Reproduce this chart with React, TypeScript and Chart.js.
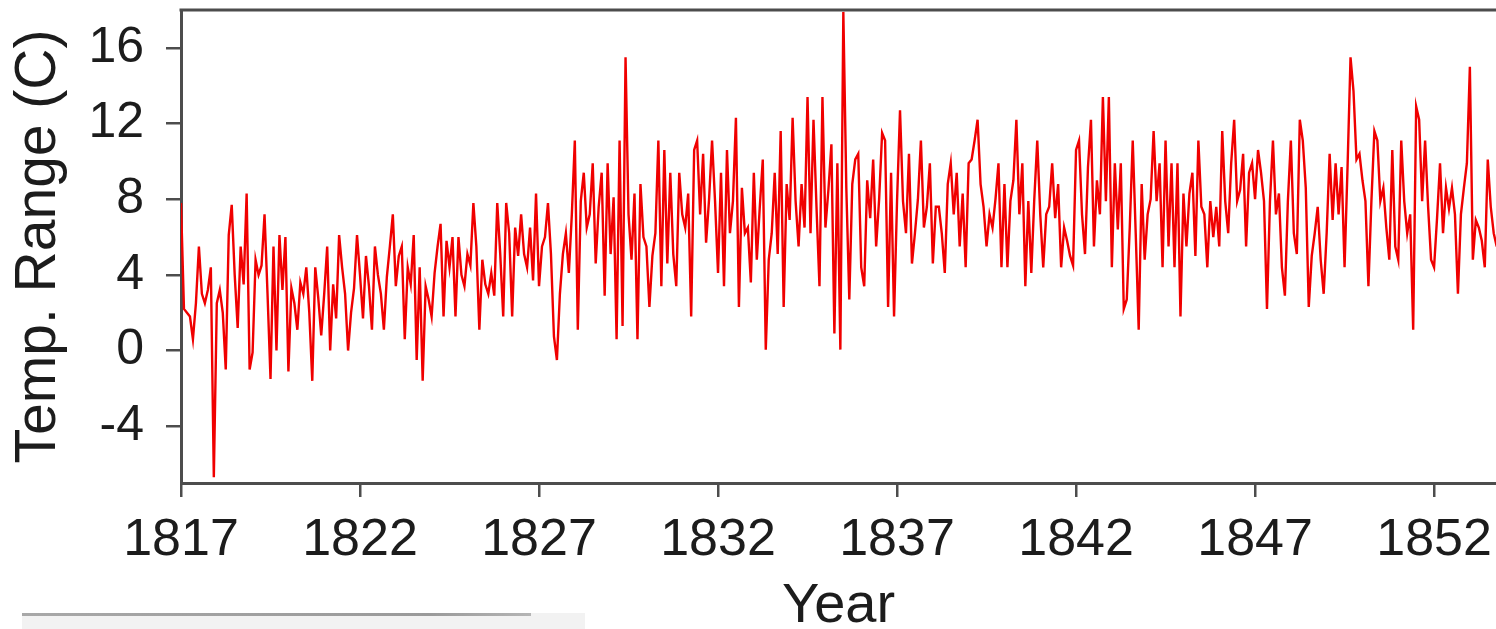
import React, { useEffect, useRef } from "react";
import { Chart, registerables } from "chart.js";

Chart.register(...registerables);

// Monthly temperature range series, starting January 1817
const START_YEAR = 1817;
const MONTHS_PER_YEAR = 12;

const yearTicks = [1817, 1822, 1827, 1832, 1837, 1842, 1847, 1852];
const tempTicks = [-4, 0, 4, 8, 12, 16];

const rangeFrom1817 = [
  7.8, 2.2, 2.0, 1.8, 0.6, 2.5, 5.5, 3.0, 2.5, 3.2,
  4.4, -6.7, 2.5, 3.2, 2.0, -1.0, 6.1, 7.7, 4.0, 1.2,
  5.5, 3.5, 8.3, -1.0, -0.1, 4.8, 4.0, 4.5, 7.2, 3.0,
  -1.5, 5.5, 0.0, 6.1, 3.2, 6.0, -1.1, 3.3, 2.5, 1.1,
  3.6, 3.0, 4.4, 2.0, -1.6, 4.4, 2.8, 0.8, 3.0, 5.5,
  0.0, 3.5, 1.7, 6.1, 4.4, 3.0, 0.0, 2.0, 3.3, 6.1,
  4.0, 1.7, 5.0, 3.4,
];
const rangeFrom1822 = [
  1.1, 5.5, 4.0, 3.0, 1.1, 3.9, 5.5, 7.2, 3.4, 5.0,
  5.5, 0.6, 4.4, 3.5, 6.1, -0.5, 4.4, -1.6, 3.4, 2.7,
  1.8, 4.1, 5.5, 6.7, 1.8, 5.8, 4.4, 6.0, 1.8, 6.0,
  4.0, 3.4, 5.1, 4.5, 7.8, 5.5, 1.1, 4.8, 3.5, 3.0,
  4.1, 2.9, 7.8, 5.1, 1.8, 7.8, 6.2, 1.8, 6.5, 5.0,
  7.2, 5.1, 4.4, 6.5, 3.7, 8.3, 3.4, 5.5, 6.0, 7.8,
  5.1, 0.75,
];
const rangeFrom1827 = [
  -0.5, 3.0, 5.1, 6.2, 4.1, 7.2, 11.1, 1.1, 7.9, 9.4,
  6.5, 7.2, 9.9, 4.6, 7.6, 9.4, 2.9, 9.9, 5.1, 8.1,
  0.6, 11.1, 1.3, 15.5, 7.2, 4.8, 8.3, 0.6, 8.8, 6.0,
  5.5, 2.3, 5.0, 6.2, 11.1, 3.4, 10.6, 4.6, 9.4, 5.1,
  3.4, 9.4, 7.2, 6.5, 8.3, 1.8, 10.6, 11.1, 7.2, 10.4,
  5.7, 8.0, 11.1, 7.9, 4.1, 9.4, 3.4, 10.6, 6.2, 7.9,
  12.3, 2.3, 8.6, 6.2,
];
const rangeFrom1832 = [
  6.5, 3.6, 9.4, 4.8, 7.6, 10.1, 0.05, 4.8, 6.2, 9.4,
  5.1, 11.6, 2.3, 8.8, 6.9, 12.3, 7.9, 5.5, 8.8, 6.5,
  13.4, 6.2, 12.2, 7.6, 3.4, 13.4, 6.5, 8.5, 10.9, 0.9,
  9.9, 0.05, 17.9, 8.6, 2.7, 8.8, 10.1, 10.4, 4.4, 3.4,
  9.0, 7.0, 10.1, 5.5, 8.0, 11.5, 11.1, 2.3, 9.4, 1.8,
  7.9, 12.7, 7.9, 6.2, 10.4, 4.6, 6.2, 8.0, 11.1, 6.5,
  7.6, 9.9, 4.6, 7.6,
];
const rangeFrom1838 = [
  7.6, 6.2, 4.1, 8.8, 9.9, 7.2, 9.4, 5.5, 8.3, 4.4,
  9.9, 10.1, 11.1, 12.2, 8.8, 7.6, 5.5, 7.2, 6.5, 8.0,
  9.9, 4.4, 8.8, 4.4, 7.9, 9.0, 12.2, 7.2, 9.9, 3.4,
  7.9, 4.1, 8.0, 11.1, 7.2, 4.4, 7.2, 7.6, 9.9, 7.0,
  8.8, 4.4, 6.5, 5.8, 5.0, 4.5, 10.6, 11.1, 7.2, 5.1,
  9.7, 12.2, 5.5, 9.0, 7.2, 13.4, 7.9, 13.4, 4.4, 9.9,
  6.4, 9.9, 2.2,
];
const rangeFrom1843 = [
  2.7, 6.5, 11.1, 6.2, 1.1, 8.8, 4.8, 7.2, 8.0, 11.6,
  7.9, 9.9, 4.4, 11.1, 5.5, 9.9, 4.4, 9.9, 1.8, 8.3,
  5.5, 8.3, 9.4, 5.0, 11.1, 7.6, 7.2, 4.4, 7.9, 6.0,
  7.6, 5.5, 11.6, 7.9, 6.2, 9.9, 12.2, 7.9, 8.5, 10.4,
  5.5, 9.4, 9.9, 8.0, 10.6, 9.4, 7.9, 2.2, 7.9, 11.1,
  7.2, 8.3, 4.4, 2.9, 7.9, 11.1, 6.2, 5.1, 12.2, 11.1,
  8.6, 2.3, 5.0, 6.2,
];
const rangeFrom1848 = [
  7.6, 4.8, 3.0, 6.2, 10.4, 6.9, 9.9, 7.2, 9.7, 4.4,
  9.7, 15.5, 13.7, 10.1, 10.4, 9.0, 7.9, 3.4, 7.9, 11.6,
  11.1, 7.9, 8.6, 6.5, 4.8, 10.6, 5.5, 4.8, 11.1, 7.9,
  6.2, 7.2, 1.1, 12.9, 12.2, 7.9, 11.1, 7.6, 4.8, 4.4,
  7.0, 9.9, 6.2, 8.6, 7.5, 8.6, 7.2, 3.0, 7.2, 8.6,
  9.9, 15.0, 4.8, 6.9, 6.5, 5.8, 4.4, 10.1, 7.6, 6.2,
  5.5,
];

const tempRange = [
  ...rangeFrom1817,
  ...rangeFrom1822,
  ...rangeFrom1827,
  ...rangeFrom1832,
  ...rangeFrom1838,
  ...rangeFrom1843,
  ...rangeFrom1848,
];

const FONT = "'Liberation Sans', Arial, Helvetica, sans-serif";
const AXIS_COLOR = "#4d4d4d";
const TEXT_COLOR = "#1c1c1c";

const topBorder = {
  id: "topBorder",
  afterDraw(chart: any) {
    const { ctx, chartArea } = chart;
    ctx.save();
    ctx.strokeStyle = AXIS_COLOR;
    ctx.lineWidth = 3;
    ctx.beginPath();
    ctx.moveTo(chartArea.left - 1.5, chartArea.top);
    ctx.lineTo(chartArea.right, chartArea.top);
    ctx.stroke();
    ctx.restore();
  },
};

export default function App() {
  const canvasRef = useRef<HTMLCanvasElement>(null);

  useEffect(() => {
    const canvas = canvasRef.current;
    if (!canvas) return;
    const points = tempRange.map((v, i) => ({
      x: START_YEAR + i / MONTHS_PER_YEAR,
      y: v,
    }));
    const chart = new Chart(canvas, {
      type: "line",
      data: {
        datasets: [
          {
            data: points,
            borderColor: "#f00000",
            borderWidth: 2.4,
            pointRadius: 0,
            tension: 0,
            fill: false,
          },
        ],
      },
      options: {
        animation: false,
        responsive: false,
        events: [],
        layout: {
          autoPadding: false,
          padding: { top: 10, left: 0, right: 0, bottom: 0 },
        },
        plugins: {
          legend: { display: false },
          tooltip: { enabled: false },
        },
        scales: {
          x: {
            type: "linear",
            min: 1817,
            max: 1853.73,
            afterBuildTicks: (scale: any) => {
              scale.ticks = yearTicks.map((v) => ({ value: v }));
            },
            afterFit: (scale: any) => {
              scale.height = 146;
              scale.paddingLeft = 0;
              scale.paddingRight = 0;
            },
            grid: {
              drawOnChartArea: false,
              drawTicks: true,
              tickLength: 14,
              color: AXIS_COLOR,
              lineWidth: 2.5,
            },
            border: { display: true, color: AXIS_COLOR, width: 3 },
            ticks: {
              font: { family: FONT, size: 52 },
              color: TEXT_COLOR,
              padding: 12,
              maxRotation: 0,
              autoSkip: false,
              callback: (v: any) => String(v),
            },
            title: {
              display: true,
              text: "Year",
              font: { family: FONT, size: 56, lineHeight: 0.8 },
              color: TEXT_COLOR,
              padding: { top: 0, bottom: 0 },
            },
          },
          y: {
            type: "linear",
            min: -7,
            max: 18,
            afterBuildTicks: (scale: any) => {
              scale.ticks = tempTicks.map((v) => ({ value: v }));
            },
            afterFit: (scale: any) => {
              scale.width = 181;
              scale.paddingTop = 0;
              scale.paddingBottom = 0;
            },
            grid: {
              drawOnChartArea: false,
              drawTicks: true,
              tickLength: 15,
              color: AXIS_COLOR,
              lineWidth: 2.5,
            },
            border: { display: true, color: AXIS_COLOR, width: 3 },
            ticks: {
              font: { family: FONT, size: 50 },
              color: TEXT_COLOR,
              padding: 22,
              autoSkip: false,
              callback: (v: any) => String(v),
            },
            title: {
              display: true,
              text: "Temp. Range (C)",
              font: { family: FONT, size: 57 },
              color: TEXT_COLOR,
              padding: { top: 5, bottom: 0 },
            },
          },
        },
      },
      plugins: [topBorder],
    });
    return () => chart.destroy();
  }, []);

  return (
    <div
      style={{
        position: "fixed",
        left: 0,
        top: 0,
        width: 1496,
        height: 629,
        overflow: "hidden",
        background: "#ffffff",
      }}
    >
      <canvas
        ref={canvasRef}
        width={1496}
        height={629}
        style={{ display: "block", width: 1496, height: 629 }}
      />
      <div
        style={{
          position: "absolute",
          left: 22,
          top: 613,
          width: 563,
          height: 16,
          background: "#f2f2f2",
        }}
      />
      <div
        style={{
          position: "absolute",
          left: 22,
          top: 613,
          width: 509,
          height: 3,
          background: "linear-gradient(to right, #a8a8a8, #9a9a9a 80%, #b5b5b5)",
        }}
      />
    </div>
  );
}
